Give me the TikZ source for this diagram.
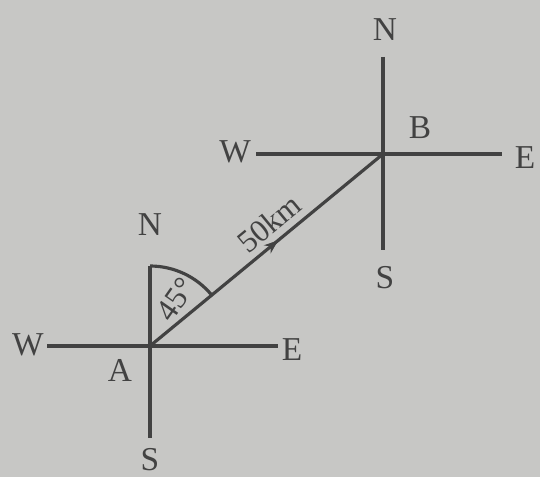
\documentclass[tikz,border=0pt]{standalone}
\usepackage{fontspec}
\setmainfont{Liberation Serif}
\usetikzlibrary{arrows.meta, positioning, decorations.markings}
\definecolor{paper}{RGB}{199,199,197}
\definecolor{ink}{RGB}{66,66,66}

\begin{document}
\begin{tikzpicture}[
  x=0.02cm, y=0.02cm,
  every node/.style={font=\fontsize{19}{22}\selectfont, text=ink},
  axis/.style={draw=ink, line width=1.8pt},
  lbl/.style={inner sep=1pt},
  pathlbl/.style={font=\fontsize{18}{21}\selectfont, inner sep=0pt},
  midarrow/.style={postaction={decorate}, decoration={markings,
      mark=at position 0.55 with {\arrow{Stealth[length=8pt,width=6pt]}}}},
]
  % paper
  \fill[paper] (0,0) rectangle (540,477);
  \useasboundingbox (0,0) rectangle (540,477);

  % compass at A
  \coordinate (A)  at (150,131);
  \coordinate (An) at (150,211);
  \coordinate (As) at (150,39);
  \coordinate (Aw) at (47,131);
  \coordinate (Ae) at (278,131);
  \node[lbl] (AN) at (150,252) {N};
  \node[lbl] (AS) at (150,17)  {S};
  \node[lbl] (AW) at (28,132)  {W};
  \node[lbl] (AE) at (292,127) {E};
  \node[lbl] (Alab) at (120,107) {A};

  % compass at B
  \coordinate (B)  at (383,323);
  \coordinate (Bn) at (383,420);
  \coordinate (Bs) at (383,227);
  \coordinate (Bw) at (256,323);
  \coordinate (Be) at (502,323);
  \node[lbl] (BN) at (385,447) {N};
  \node[lbl] (BS) at (385,199) {S};
  \node[lbl] (BW) at (235,325) {W};
  \node[lbl] (BE) at (525,319) {E};
  \node[lbl] (Blab) at (420,349) {B};

  \foreach \a/\b in {An/As, Aw/Ae, Bn/Bs, Bw/Be}
    \draw[axis] (\a) -- (\b);

  % bearing from A to B
  \draw[axis, midarrow] (A) -- (B);
  \draw[axis] (An) arc[start angle=90, end angle=39.5, radius=1.6cm];

  \node[pathlbl, rotate=55]   (ang)  at (176,178) {45\textdegree};
  \node[pathlbl, rotate=39.5] (dist) at (269,254) {50km};
\end{tikzpicture}
\end{document}
